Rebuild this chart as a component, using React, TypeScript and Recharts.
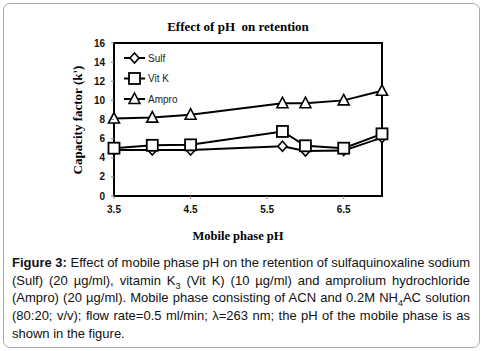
import React from "react";
import { LineChart, Line, XAxis, YAxis } from "recharts";

const phValues = [3.5, 4.0, 4.5, 5.7, 6.0, 6.5, 7.0];
const sulf = [4.8, 4.8, 4.8, 5.2, 4.7, 4.75, 6.1];
const vitK = [5.0, 5.3, 5.35, 6.75, 5.25, 5.0, 6.5];
const ampro = [8.1, 8.2, 8.5, 9.7, 9.7, 10.0, 11.0];
const xTicks = [3.5, 4.5, 5.5, 6.5];
const yTicks = [0, 2, 4, 6, 8, 10, 12, 14, 16];

const data = phValues.map((ph, i) => ({ ph, sulf: sulf[i], vitK: vitK[i], ampro: ampro[i] }));

const serif = "'Liberation Serif', 'Times New Roman', serif";
const sans = "'Liberation Sans', Arial, sans-serif";

// plot box, matches the chart margins below
const plot = { left: 114, top: 43, width: 268, height: 153 };

// marker shapes
const Diamond = ({ cx, cy }: { cx: number; cy: number }) => (
  <path d={`M${cx},${cy - 5} L${cx + 4.5},${cy} L${cx},${cy + 5} L${cx - 4.5},${cy} Z`} fill="#fff" stroke="#000" strokeWidth={1.6} />
);
const Square = ({ cx, cy }: { cx: number; cy: number }) => (
  <rect x={cx - 5.5} y={cy - 5.5} width={11} height={11} fill="#fff" stroke="#000" strokeWidth={1.8} />
);
const Triangle = ({ cx, cy }: { cx: number; cy: number }) => (
  <path d={`M${cx},${cy - 6} L${cx + 5.5},${cy + 4.5} L${cx - 5.5},${cy + 4.5} Z`} fill="#fff" stroke="#000" strokeWidth={1.6} />
);

const series = [
  { key: "sulf", name: "Sulf", Shape: Diamond },
  { key: "vitK", name: "Vit K", Shape: Square },
  { key: "ampro", name: "Ampro", Shape: Triangle },
];

// tick mark + label
const XTick = (p: any) => (
  <g>
    <rect x={p.x - 0.5} y={p.y - 10} width={1} height={3} fill="#888" />
    <text x={p.x} y={p.y} dy="0.71em" textAnchor="middle" fontFamily={sans} fontWeight="bold" fontSize={10} fill="#111">
      {Number(p.payload.value).toFixed(1)}
    </text>
  </g>
);
const YTick = (p: any) => (
  <g>
    <rect x={p.x + 6} y={p.y - 0.5} width={3} height={1} fill="#888" />
    <text x={p.x} y={p.y} dy="0.355em" textAnchor="end" fontFamily={sans} fontWeight="bold" fontSize={10} fill="#111">
      {p.payload.value}
    </text>
  </g>
);

const lineRow: React.CSSProperties = { textAlign: "justify", textAlignLast: "justify", whiteSpace: "nowrap" };
const sub: React.CSSProperties = { fontSize: 9, verticalAlign: "sub", lineHeight: 0 };

// solid bars forming the plot frame
const bar = (left: number, top: number, width: number, height: number): React.CSSProperties => ({
  position: "absolute",
  left,
  top,
  width,
  height,
  background: "#000",
});

export default function App() {
  return (
    <div style={{ position: "absolute", left: 0, top: 0, width: 482, height: 351, background: "#fff" }}>
      <div
        style={{
          position: "absolute",
          left: 3,
          top: 3,
          width: 475,
          height: 343,
          border: "1px solid #a9a9a9",
          borderRadius: 7,
        }}
      />
      <div
        style={{
          position: "absolute",
          left: 0,
          top: 19,
          width: 476,
          textAlign: "center",
          fontFamily: serif,
          fontWeight: "bold",
          fontSize: 13,
        }}
      >
        Effect of pH&nbsp; on retention
      </div>
      <div
        style={{
          position: "absolute",
          left: 78,
          top: 120,
          transform: "translate(-50%, -50%) rotate(-90deg)",
          whiteSpace: "nowrap",
          fontFamily: serif,
          fontWeight: "bold",
          fontSize: 13,
        }}
      >
        Capacity factor (k')
      </div>
      <div
        style={{
          position: "absolute",
          left: 0,
          top: 229,
          width: 476,
          textAlign: "center",
          fontFamily: serif,
          fontWeight: "bold",
          fontSize: 12.5,
        }}
      >
        Mobile phase pH
      </div>

      {/* plot frame */}
      <div style={bar(plot.left - 1, plot.top - 1, plot.width + 2, 2)} />
      <div style={bar(plot.left - 1, plot.top + plot.height - 1, plot.width + 2, 2)} />
      <div style={bar(plot.left - 1, plot.top - 1, 2, plot.height + 2)} />
      <div style={bar(plot.left + plot.width - 1, plot.top - 1, 2, plot.height + 2)} />

      <div style={{ position: "absolute", left: 0, top: 0 }}>
        <LineChart width={482} height={240} data={data} margin={{ top: plot.top, right: 482 - plot.left - plot.width, left: 0, bottom: 14 }}>
          <XAxis
            dataKey="ph"
            type="number"
            domain={[3.5, 7]}
            ticks={xTicks}
            interval={0}
            height={240 - 14 - plot.top - plot.height}
            tickSize={3}
            tickMargin={7}
            axisLine={{ stroke: "#000", strokeWidth: 2 }}
            tickLine={false}
            tick={<XTick />}
          />
          <YAxis
            type="number"
            domain={[0, 16]}
            ticks={yTicks}
            interval={0}
            width={plot.left}
            tickSize={3}
            tickMargin={6}
            axisLine={{ stroke: "#000", strokeWidth: 2 }}
            tickLine={false}
            tick={<YTick />}
          />
          {series.map((s) => (
            <Line
              key={s.key}
              dataKey={s.key}
              name={s.name}
              stroke="#000"
              strokeWidth={2}
              isAnimationActive={false}
              dot={(p: any) => <s.Shape key={`${s.key}-${p.index}`} cx={p.cx} cy={p.cy} />}
            />
          ))}
        </LineChart>
      </div>

      {/* legend */}
      <svg style={{ position: "absolute", left: 120, top: 50 }} width={80} height={60}>
        {series.map((s, i) => {
          const y = 8 + i * 20.5;
          return (
            <g key={s.key}>
              <rect x={4} y={y - 1} width={21} height={2} fill="#000" />
              <s.Shape cx={14.5} cy={y} />
              <text x={28} y={y + 3.5} fontFamily={sans} fontSize={10} fill="#222">
                {s.name}
              </text>
            </g>
          );
        })}
      </svg>

      <div
        style={{
          position: "absolute",
          left: 12,
          top: 254,
          width: 458,
          fontFamily: sans,
          fontSize: 13,
          lineHeight: "17.7px",
          color: "#111",
        }}
      >
        <div style={lineRow}>
          <b>Figure 3:</b> Effect of mobile phase pH on the retention of sulfaquinoxaline sodium
        </div>
        <div style={lineRow}>
          (Sulf) (20 µg/ml), vitamin K<span style={sub}>3</span> (Vit K) (10 µg/ml) and amprolium hydrochloride
        </div>
        <div style={lineRow}>
          (Ampro) (20 µg/ml). Mobile phase consisting of ACN and 0.2M NH<span style={sub}>4</span>AC solution
        </div>
        <div style={lineRow}>
          (80:20; v/v); flow rate=0.5 ml/min; λ=263 nm; the pH of the mobile phase is as
        </div>
        <div>shown in the figure.</div>
      </div>
    </div>
  );
}
